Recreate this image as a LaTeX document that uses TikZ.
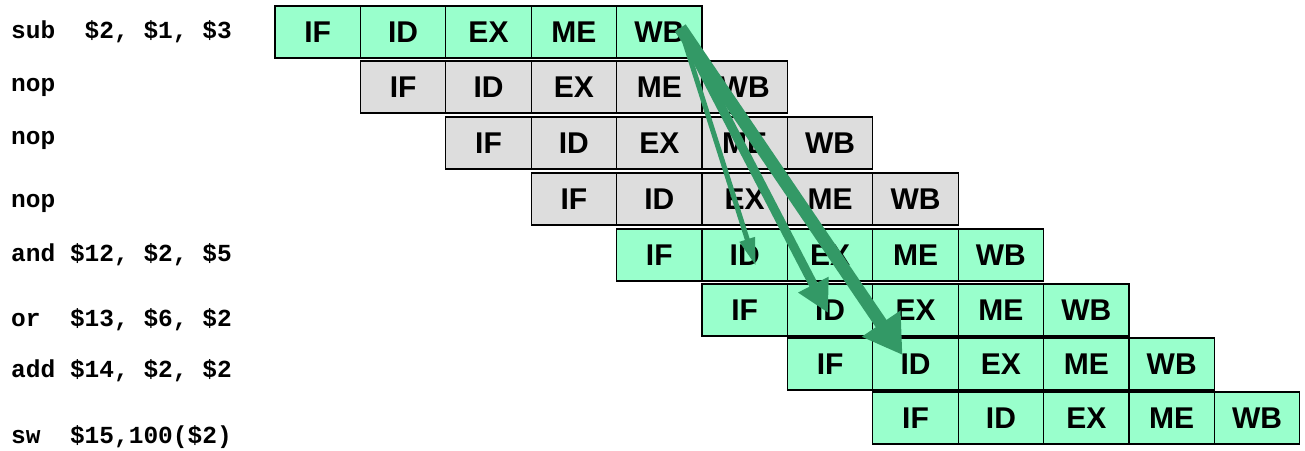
\documentclass[tikz,border=0pt]{standalone}
\usepackage{fontspec}
\setmainfont{Liberation Sans}
\setmonofont{Liberation Mono}
\usetikzlibrary{arrows.meta,calc}
\definecolor{cellgreen}{HTML}{99FFCC}
\definecolor{cellgray}{HTML}{DDDDDD}
\definecolor{arrgreen}{HTML}{339966}
\begin{document}
\begin{tikzpicture}[x=1pt,y=-1pt,
  stage/.style={draw=black, line width=1.1pt, minimum width=85.4pt, minimum height=52pt,
    inner sep=0pt, outer sep=0pt, font=\fontsize{30}{31}\selectfont\bfseries},
  greencell/.style={fill=cellgreen},
  graycell/.style={fill=cellgray},
  instr/.style={anchor=west, inner sep=0pt, font=\fontsize{24.5}{25}\selectfont\ttfamily\bfseries},
  depthin/.style={draw=arrgreen, line width=5pt, -{Triangle[length=28pt,width=15pt]}},
  depmid/.style={draw=arrgreen, line width=9pt, -{Triangle[length=32pt,width=32pt]}},
  depthick/.style={draw=arrgreen, line width=13pt, -{Triangle[length=38pt,width=44pt]}}]
\useasboundingbox (0,0) rectangle (1305,450);
\foreach \r/\top/\col in {1/6/greencell,2/61/graycell,3/117/graycell,4/173/graycell,5/229/greencell,6/284/greencell,7/338/greencell,8/392/greencell}{
  \foreach \s [count=\k from 0] in {IF,ID,EX,ME,WB}{
    \node[stage,\col] (r\r\s) at ({275+(\r-1+\k)*85.4+42.7},{\top+26}) {\s};
  }
}
\node[instr] (i1) at (11,32) {sub\ \ \$2, \$1, \$3};
\node[instr] (i2) at (11,87) {nop};
\node[instr] (i3) at (11,140) {nop};
\node[instr] (i4) at (11,203) {nop};
\node[instr] (i5) at (11,255) {and \$12, \$2, \$5};
\node[instr] (i6) at (11,320) {or\ \ \$13, \$6, \$2};
\node[instr] (i7) at (11,371) {add \$14, \$2, \$2};
\node[instr] (i8) at (11,437) {sw\ \ \$15,100(\$2)};
\coordinate (src) at ($(r1WB.center)+(21,-4)$);
\coordinate (t5) at ($(r5ID.center)+(11,11)$);
\coordinate (t6) at ($(r6ID.center)+(-2,3)$);
\coordinate (t7) at ($(r7ID.center)+(-13,-9)$);
\draw[depthin] (src) -- (t5);
\draw[depmid] (src) -- (t6);
\draw[depthick] (src) -- (t7);
\end{tikzpicture}
\end{document}
